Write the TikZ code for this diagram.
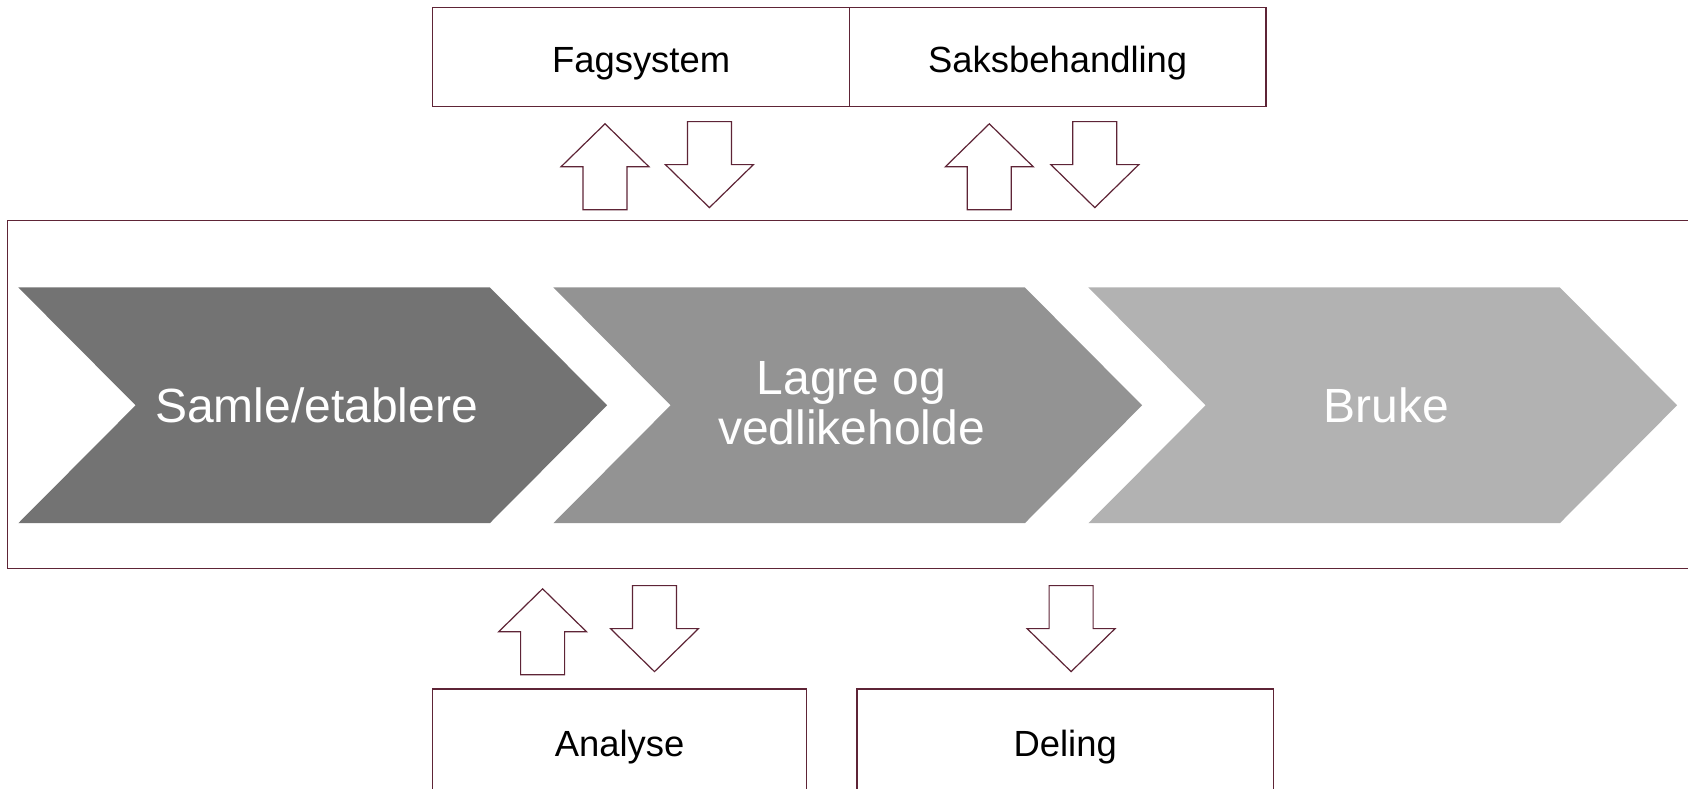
\documentclass[tikz,border=0pt]{standalone}
\usepackage{fontspec}
\setmainfont{Liberation Sans}
\usepackage{tikz}
\definecolor{linecol}{RGB}{94,36,54}
\definecolor{chevA}{RGB}{115,115,115}
\definecolor{chevB}{RGB}{147,147,147}
\definecolor{chevC}{RGB}{178,178,178}
\tikzset{
  frame/.style={draw=linecol,line width=0.6pt},
  blockarrow/.style={draw=linecol,fill=white,line width=0.6pt,line join=miter},
  boxtext/.style={font={\fontsize{18.2}{20}\selectfont},text=black},
  chevtext/.style={font={\fontsize{24}{25}\selectfont},text=white,align=center}
}
\begin{document}
\begin{tikzpicture}[x=0.5pt,y=-0.5pt]
\useasboundingbox (0,0) rectangle (1688,788);
\clip (0,0) rectangle (1688,788);

\draw[frame] (432.8,7.5) rectangle (849.4,106.6);
\draw[frame] (849.4,7.5) rectangle (1266,106.6);
\node[boxtext] (fag) at (641.1,63.5) {Fagsystem};
\node[boxtext] (saks) at (1057.7,63.5) {Saksbehandling};

\draw[frame] (7.5,220.7) rectangle (1720,568.4);

\foreach \i/\col in {0/chevA,1/chevB,2/chevC}
  \fill[\col] ({18.3+535*\i},287.4) -- ++(471.5,0) -- ++(117.3,117.9)
    -- ++(-117.3,117.9) -- ++(-471.5,0) -- ++(117.3,-117.9) -- cycle;
\node[chevtext] (samle) at (316.5,405.8) {Samle/etablere};
\node[chevtext] (lagre) at (851.5,403.7) {Lagre og\\vedlikeholde};
\node[chevtext] (bruke) at (1386.5,405.8) {Bruke};

\foreach \x/\y in {605/123.8,989.3/123.8,542.6/588.8}
  \draw[blockarrow] (\x,\y) -- ++(44,43) -- ++(-22,0) -- ++(0,43)
    -- ++(-44,0) -- ++(0,-43) -- ++(-22,0) -- cycle;
\foreach \x/\y in {709.4/121.6,1094.8/121.6,654.5/585.6,1071.1/585.6}
  \draw[blockarrow] (\x,{\y+86}) -- ++(44,-43) -- ++(-22,0) -- ++(0,-43)
    -- ++(-44,0) -- ++(0,43) -- ++(-22,0) -- cycle;

\draw[frame] (432.8,689) rectangle (806.3,820);
\draw[frame] (856.9,689) rectangle (1273.5,820);
\node[boxtext] (analyse) at (619.6,746.6) {Analyse};
\node[boxtext] (deling) at (1065.2,746.6) {Deling};
\end{tikzpicture}
\end{document}
